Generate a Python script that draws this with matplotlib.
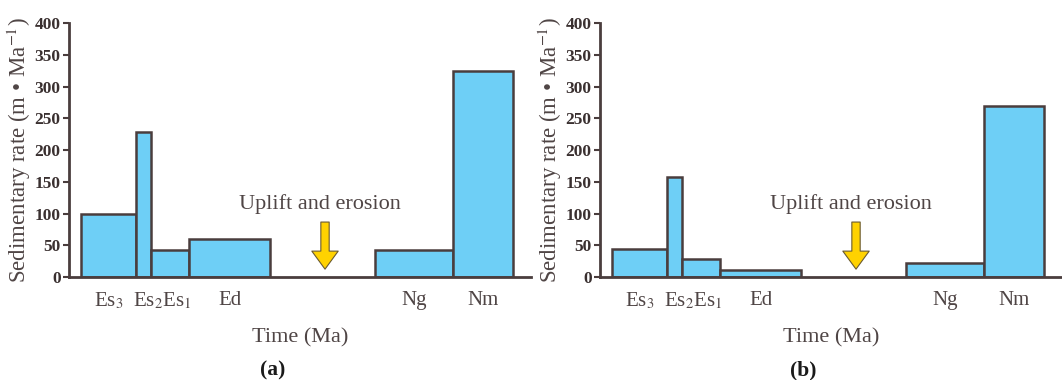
import numpy as np
import matplotlib
matplotlib.use("Agg")
from matplotlib import pyplot as plt

plt.rcParams['font.family'] = ['Liberation Serif', 'DejaVu Serif']
plt.rcParams['mathtext.fontset'] = 'stix'

# stratigraphic units, boundaries on the (unlabelled) time axis, arbitrary units
units = ['Es3', 'Es2', 'Es1', 'Ed', 'Ng', 'Nm']
left = [12, 67, 82, 120, 306, 384]
right = [67, 82, 120, 201, 384, 444]

# sedimentary rate, m/Ma
rate_a = [100, 228, 42, 60, 43, 325]
rate_b = [44, 158, 28, 11, 22, 270]

tick_labels = ['Es$_3$', 'Es$_2$Es$_1$', 'Ed', 'Ng', 'Nm']
tick_groups = [[0], [1, 2], [3], [4], [5]]

fill = '#6ecff6'
edge = '#4a3d3d'
txt = '#4f4545'

fig = plt.figure(figsize=(10.62, 3.8), dpi=100)
ax_a = fig.add_axes([0.065, 0.271, 0.435, 0.668])
ax_b = fig.add_axes([0.565, 0.271, 0.435, 0.668])


def panel(ax, rate, tag):
    l = np.array(left)
    w = np.array(right) - l
    ax.bar(l, rate, width=w, align='edge', color=fill, edgecolor=edge, linewidth=1.8)
    ax.set_xlim(0, 462)
    ax.set_ylim(0, 400)
    ax.set_yticks(np.arange(0, 401, 50))
    for s in ['top', 'right']:
        ax.spines[s].set_visible(False)
    for s in ['left', 'bottom']:
        ax.spines[s].set_color(edge)
        ax.spines[s].set_linewidth(2)
    ax.tick_params(axis='y', direction='out', length=4, width=1.5, color=edge,
                   labelsize=12.5, labelcolor='#3a3030', pad=2)
    for t in ax.get_yticklabels():
        t.set_fontweight('bold')
    centers = [(min(left[i] for i in g) + max(right[i] for i in g)) / 2 for g in tick_groups]
    ax.set_xticks(centers)
    ax.set_xticklabels(tick_labels)
    ax.tick_params(axis='x', length=0, labelsize=15, labelcolor=txt, pad=10)
    ax.set_xlabel('Time (Ma)', fontsize=16, color=txt, labelpad=12)
    ax.set_ylabel('Sedimentary rate (m • Ma$^{-1}$)', fontsize=16.5, color=txt, labelpad=1)
    ax.text(251, 115, 'Uplift and erosion', ha='center', va='center', fontsize=16, color=txt)
    ax.annotate('', xy=(256, 8), xytext=(256, 91),
                arrowprops=dict(arrowstyle='simple,head_width=1.9,head_length=1.3,tail_width=0.6',
                                facecolor='#ffd200', edgecolor='#6a5a30', linewidth=0.8))
    ax.text(0.44, -0.37, tag, transform=ax.transAxes, ha='center', va='center',
            fontsize=15.5, fontweight='bold', color='#1a1a1a')


panel(ax_a, rate_a, '(a)')
panel(ax_b, rate_b, '(b)')

fig.savefig('out.png', dpi=100)
